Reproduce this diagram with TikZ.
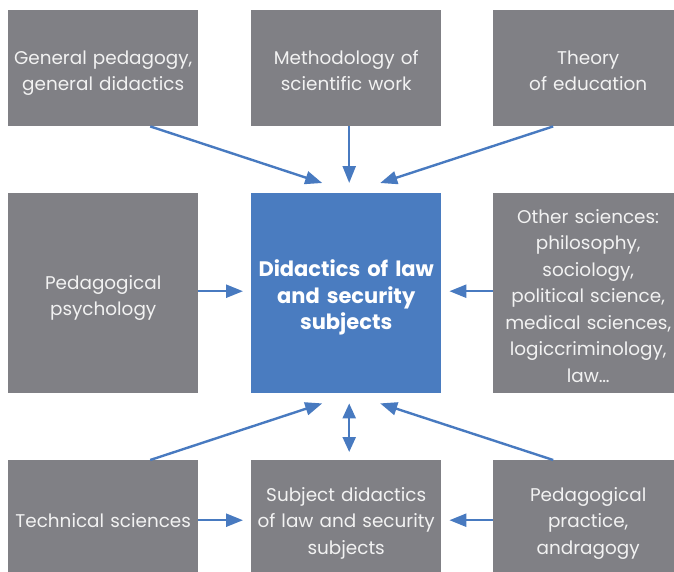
\documentclass[tikz,border=0pt]{standalone}
\usepackage{fontspec}
\setmainfont{Poppins}
\usetikzlibrary{arrows.meta}

\definecolor{boxgray}{RGB}{128,128,133}
\definecolor{hubblue}{RGB}{74,124,192}
\definecolor{arrowblue}{RGB}{72,122,192}
\definecolor{textwhite}{RGB}{242,242,242}

\tikzset{
  field/.style = {fill=boxgray, text=textwhite, anchor=north west, align=center,
                  inner sep=0pt, minimum width=190pt, text width=190pt,
                  font=\fontsize{18.4}{26.5}\selectfont,
                  execute at begin node={\rule{0pt}{\dimexpr\fontcharht\font`l+10.5pt\relax}},
                  execute at end node={\rule[-5.5pt]{0pt}{0pt}}},
  hubbox/.style = {field, fill=hubblue, text=white,
                   font=\bfseries\fontsize{21}{26.5}\selectfont},
  feed/.style = {-{Triangle[length=17pt,width=13pt]}, line width=2.4pt, draw=arrowblue},
  both/.style = {feed, {Triangle[length=15pt,width=13pt]}-{Triangle[length=15pt,width=13pt]}}
}

\begin{document}
\begin{tikzpicture}[x = 1pt, y = -1pt]
    \clip (0,0) rectangle (674,571);
    % top row
    \node[field, minimum height=116pt] at (8,10) (gen) {General pedagogy,\\general didactics};
    \node[field, minimum height=116pt] at (251,10) (meth) {Methodology of\\scientific work};
    \node[field, minimum height=116pt] at (493,10) (theo) {Theory\\of education};
    % middle row
    \node[field, minimum height=200pt] at (8,193) (psy) {Pedagogical\\psychology};
    \node[hubbox, minimum height=200pt] at (251,193) (hub) {Didactics of law\\and security\\subjects};
    \node[field, minimum height=200pt] at (493,193) (other) {Other sciences:\\philosophy,\\sociology,\\political science,\\medical sciences,\\logiccriminology,\\law\ldots};
    % bottom row
    \node[field, minimum height=116pt] at (8,460) (tech) {Technical sciences};
    \node[field, minimum height=116pt] at (251,460) (subj) {Subject didactics\\of law and security\\subjects};
    \node[field, minimum height=116pt] at (493,460) (prac) {Pedagogical\\practice,\\andragogy};

    \draw[feed] ([xshift=47pt]gen.south) -- ([xshift=-24pt,yshift=10pt]hub.north);
    \draw[feed] ([xshift=3pt]meth.south) -- ([xshift=3pt,yshift=10pt]hub.north);
    \draw[feed] ([xshift=-35pt]theo.south) -- ([xshift=34pt,yshift=10pt]hub.north);
    \draw[feed, shorten >= 8pt] ([yshift=2pt]psy.east) -- ([yshift=2pt]hub.west);
    \draw[feed, shorten >= 8pt] ([yshift=2pt]other.west) -- ([yshift=2pt]hub.east);
    \draw[feed] ([xshift=47pt]tech.north) -- ([xshift=-24pt,yshift=-10pt]hub.south);
    \draw[both, shorten <= 10pt, shorten >= 8pt] ([xshift=3pt]hub.south) -- ([xshift=3pt]subj.north);
    \draw[feed] ([xshift=-35pt]prac.north) -- ([xshift=34pt,yshift=-10pt]hub.south);
    \draw[feed, shorten >= 8pt] ([yshift=-2pt]tech.east) -- ([yshift=-2pt]subj.west);
    \draw[feed, shorten >= 8pt] ([yshift=-2pt]prac.west) -- ([yshift=-2pt]subj.east);
\end{tikzpicture}
\end{document}
